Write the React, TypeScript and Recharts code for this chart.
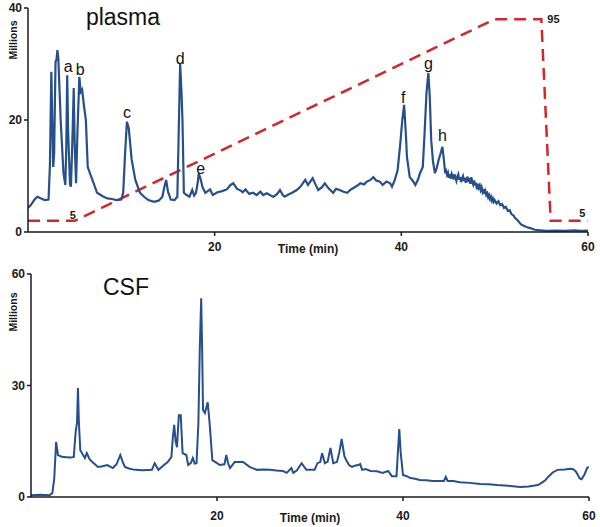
import React from 'react';
import { LineChart, Line, XAxis, YAxis, ReferenceDot, Customized } from 'recharts';

// ---------- data ----------
const plasmaTrace: [number, number][] = [
  [0, 4.3], [0.3, 4.8], [0.7, 5.8], [1.0, 6.3], [1.4, 6.0], [1.8, 5.7], [2.2, 5.8],
  [2.35, 12], [2.5, 28.6], [2.6, 20], [2.7, 11.6], [2.8, 14], [2.95, 30.4], [3.05, 30.8], [3.15, 32.5], [3.25, 31],
  [3.5, 20], [3.8, 10.5], [4.0, 8.4], [4.1, 15], [4.2, 28], [4.3, 18], [4.5, 8.5], [4.6, 8.1], [4.75, 16],
  [4.9, 25.7], [5.0, 16], [5.15, 8.7], [5.3, 18], [5.5, 27.7], [5.65, 25], [5.8, 25.4], [6.0, 22.5], [6.2, 20],
  [6.4, 11.6], [6.9, 9.3], [7.4, 7], [8.0, 6.4], [8.5, 6], [9.0, 5.9], [9.5, 5.7], [10.0, 5.8], [10.2, 7],
  [10.4, 14], [10.6, 19.7], [10.8, 18.5], [11.1, 13], [11.5, 9.3], [12.0, 7], [12.5, 6.2], [12.9, 5.7],
  [13.5, 5.4], [14.0, 5.6], [14.4, 6.3], [14.6, 8], [14.8, 9.3], [15.0, 7.2], [15.3, 5.8], [15.7, 5.7],
  [16.0, 6.3], [16.15, 18], [16.3, 30.1], [16.45, 24.8], [16.55, 20], [16.7, 7], [17.0, 6.6], [17.3, 6.3],
  [17.6, 7.5], [17.8, 6.5], [18.0, 7], [18.2, 9], [18.3, 10.5], [18.5, 9.4], [18.7, 8], [19.0, 7], [19.5, 7.6],
  [19.8, 6.6], [20.3, 7.1], [20.8, 7.3], [21.3, 7.6], [21.7, 8.4], [22.0, 8.7], [22.4, 7.7], [22.8, 7.4],
  [23.0, 7.1], [23.3, 7.6], [23.7, 6.8], [24.1, 7.0], [24.5, 6.6], [24.9, 7.2], [25.2, 6.6], [25.6, 6.9],
  [26.0, 6.5], [26.3, 6.3], [26.7, 6.8], [27.0, 7.5], [27.3, 6.6], [27.5, 6.3], [27.9, 6.7], [28.3, 7.0],
  [28.8, 7.5], [29.2, 8.1], [29.7, 9.3], [30.0, 8.4], [30.5, 9.6], [30.8, 8.5], [31.1, 7.5], [31.5, 8.0],
  [31.8, 8.7], [32.2, 7.8], [32.7, 7.0], [33.0, 7.7], [33.4, 7.5], [33.8, 7.2], [34.2, 7.0], [34.6, 7.6],
  [35.0, 8.0], [35.3, 8.3], [35.6, 8.7], [36.0, 8.5], [36.3, 9.0], [36.7, 9.3], [37.0, 9.8], [37.3, 9.2],
  [37.7, 9.0], [38.0, 8.4], [38.4, 9.0], [38.8, 8.7], [39.0, 8.1], [39.3, 9.3], [39.6, 11], [39.9, 16],
  [40.1, 20], [40.3, 22.7], [40.5, 17], [40.6, 13.4], [40.9, 9.8], [41.2, 9.2], [41.5, 8.4], [41.8, 9.4],
  [42.0, 10.5], [42.3, 11.6], [42.5, 18], [42.7, 25], [42.9, 28.4], [43.05, 24], [43.2, 16.4], [43.4, 12.5],
  [43.6, 10.5], [43.8, 11.5], [44.0, 12.9], [44.2, 14], [44.4, 15.2], [44.55, 13], [44.7, 10.5],
  [44.8, 10.9], [44.9, 10.2], [45.0, 10.6], [45.1, 9.7], [45.2, 10.3], [45.3, 9.5], [45.4, 10.4], [45.5, 10.0],
  [45.6, 9.4], [45.7, 10.3], [45.8, 9.6], [45.9, 9.1], [46.0, 9.9], [46.1, 10.3], [46.2, 9.3], [46.3, 9.8],
  [46.4, 8.9], [46.5, 9.6], [46.6, 10.0], [46.7, 9.1], [46.8, 9.7], [46.9, 8.8], [47.0, 9.4], [47.1, 9.9],
  [47.2, 8.9], [47.3, 9.6], [47.4, 8.6], [47.5, 9.8], [47.6, 9.0], [47.7, 8.5], [47.8, 9.2], [47.9, 8.3],
  [48.0, 8.8], [48.1, 7.6], [48.2, 8.6], [48.3, 7.9], [48.4, 8.3], [48.5, 7.5], [48.6, 8.0], [48.7, 7.2],
  [48.8, 7.7], [48.9, 6.8], [49.0, 7.3], [49.1, 6.6], [49.2, 6.9], [49.3, 6.2], [49.4, 6.6], [49.5, 5.9],
  [49.6, 6.3], [49.7, 5.6], [49.8, 6.0], [49.9, 5.4], [50.0, 5.7], [50.2, 5.1], [50.4, 5.5], [50.6, 4.8],
  [50.8, 5.0], [51.0, 4.3], [51.2, 4.5], [51.4, 3.8], [51.6, 3.9], [51.8, 3.2], [52.0, 3.0], [52.2, 2.5],
  [52.4, 2.2], [52.6, 1.8], [52.8, 1.4], [53.0, 1.2], [53.4, 0.9], [53.8, 0.7], [54.3, 0.4], [54.9, 0.3],
  [55.5, 0.2], [56.5, 0.25], [57.5, 0.2], [58.5, 0.3], [59.3, 0.2], [60, 0.25],
];

const csfTrace: [number, number][] = [
  [0, 0.5], [1, 0.6], [2, 0.5], [2.3, 1.1], [2.5, 5], [2.7, 14.8], [2.9, 11.3], [3.3, 10.8], [3.8, 10.7],
  [4.3, 10.6], [4.6, 10.8], [4.8, 17.5], [4.95, 20], [5.05, 29.3], [5.15, 20], [5.3, 12.6], [5.6, 11.3],
  [5.8, 10.5], [6.0, 11.8], [6.3, 10.2], [6.6, 9.4], [7.2, 8.1], [7.7, 8.3], [8.2, 8.6], [8.8, 7.8], [9.2, 8.8],
  [9.6, 11.3], [9.85, 9.5], [10.1, 8.1], [10.6, 7.6], [11.2, 7.3], [12.0, 7.2], [13.0, 7.3], [13.3, 9.1],
  [13.7, 7.3], [14.3, 8.6], [14.7, 9.4], [15.1, 10.8], [15.25, 16], [15.4, 19.4], [15.55, 15], [15.7, 13.4],
  [15.8, 18], [15.9, 22], [16.1, 22], [16.2, 17], [16.3, 11.8], [16.7, 11.3], [16.9, 8.6], [17.2, 9.2],
  [17.4, 10.5], [17.6, 9.0], [17.8, 9.1], [18.0, 20], [18.15, 40], [18.3, 53.5], [18.4, 40], [18.5, 23.4],
  [18.7, 22.6], [19.0, 25.5], [19.2, 20], [19.5, 9.9], [20.0, 9.1], [20.3, 8.6], [20.8, 8.8], [21.0, 11.3],
  [21.2, 9], [21.4, 7.8], [21.9, 9.4], [22.8, 9.4], [23.5, 8.1], [24.3, 7.3], [25.0, 7.4], [25.7, 7.3],
  [26.4, 7.1], [27.1, 7.0], [27.5, 6.5], [28.0, 7.8], [28.2, 6.5], [28.6, 7.2], [29.1, 9.1], [29.6, 7.3],
  [30.5, 7.3], [30.8, 9.1], [31.1, 9.4], [31.3, 11.8], [31.6, 9.1], [31.9, 9.5], [32.2, 13.2], [32.5, 9.1],
  [32.9, 9.4], [33.15, 12], [33.4, 15.6], [33.7, 11], [33.9, 9.9], [34.2, 8.6], [34.5, 8.1], [34.8, 8.4],
  [35.2, 8.6], [35.4, 8.9], [35.6, 7.3], [36.0, 7.5], [36.5, 7.0], [37.2, 6.9], [37.8, 6.5], [38.4, 7.0],
  [38.8, 5.6], [39.3, 5.6], [39.45, 12], [39.6, 18.3], [39.75, 12], [40.0, 5.9], [40.4, 5.6], [40.8, 5.1],
  [41.3, 4.9], [41.8, 4.6], [42.5, 4.5], [43.2, 4.3], [44.0, 4.3], [44.4, 4.3], [44.6, 5.4], [44.8, 4.3],
  [45.4, 4.3], [46.1, 4.0], [47.2, 3.8], [48.3, 3.5], [49.2, 3.4], [50.1, 3.2], [51.3, 3.0], [52.6, 2.7],
  [53.5, 2.8], [54.0, 3.0], [54.5, 3.2], [54.9, 3.8], [55.3, 4.5], [55.6, 5.4], [56.1, 6.6], [56.6, 7.3],
  [57.4, 7.4], [58.0, 7.6], [58.3, 7.5], [58.6, 6.8], [58.8, 5.9], [59.0, 5.0], [59.2, 4.8], [59.5, 6.0],
  [59.8, 7.8], [60.0, 8.1],
];

const gradientTime = [0, 5, 50, 55, 56, 60];
const gradientPct = [5, 5, 95, 95, 5, 5];

const plasmaPeaks = [
  { label: 'a', t: 4.3, v: 29.5 },
  { label: 'b', t: 5.6, v: 29.1 },
  { label: 'c', t: 10.6, v: 21.3 },
  { label: 'd', t: 16.3, v: 31.1 },
  { label: 'e', t: 18.5, v: 11.4 },
  { label: 'f', t: 40.2, v: 24.1 },
  { label: 'g', t: 42.9, v: 30.2 },
  { label: 'h', t: 44.4, v: 17.3 },
];

const gradientLabels = [
  { label: '5', t: 4.8, p: 7.6 },
  { label: '95', t: 56.3, p: 95 },
  { label: '5', t: 59.4, p: 8.5 },
];

const xTicks = [20, 40, 60];
const plasmaYTicks = [0, 20, 40];
const csfYTicks = [0, 30, 60];

// ---------- derived tables ----------
const plasmaData = plasmaTrace.map(([t, v]) => ({ t, v }));
const csfData = csfTrace.map(([t, v]) => ({ t, v }));
const gradientData = gradientTime.map((t, i) => ({ t, p: gradientPct[i] }));

// ---------- styles ----------
const FONT = 'Arial, "Liberation Sans", sans-serif';
const TRACE = '#264f8c';
const RED = '#d4262b';
const AXIS = '#1a1a1a';
const tickStyle = { fontSize: 12, fontWeight: 'bold' as const, fill: '#1a1a1a', fontFamily: FONT };

const TitleText = ({ x, y, text }: { x: number; y: number; text: string }) => (
  <text x={x} y={y} textAnchor="middle" fontSize={23} fontFamily={FONT} fill="#111">
    {text}
  </text>
);

const MillionsText = ({ x, y }: { x: number; y: number }) => (
  <text
    x={x}
    y={y}
    transform={`rotate(-90 ${x} ${y})`}
    textAnchor="middle"
    dominantBaseline="central"
    fontSize={10.5}
    fontWeight="bold"
    fontFamily={FONT}
    fill="#1a1a1a"
  >
    Millions
  </text>
);

export default function App() {
  return (
    <div style={{ position: 'absolute', left: 0, top: 0, width: 600, height: 527, background: '#fff', fontFamily: FONT }}>
      <div style={{ position: 'absolute', left: 0, top: 0 }}>
        <LineChart width={600} height={262} margin={{ top: 8, right: 12, left: 8, bottom: 0 }}>
          <XAxis
            type="number"
            dataKey="t"
            domain={[0, 60]}
            ticks={xTicks}
            allowDataOverflow
            height={30}
            tickSize={4}
            tickMargin={6}
            tick={tickStyle}
            axisLine={{ stroke: AXIS, strokeWidth: 1.5 }}
            tickLine={{ stroke: AXIS, strokeWidth: 1.5 }}
            label={{ value: 'Time (min)', position: 'insideBottom', offset: 9, style: { fontSize: 12, fontWeight: 'bold', fill: '#1a1a1a', fontFamily: FONT } }}
          />
          <YAxis
            yAxisId="m"
            type="number"
            domain={[0, 40]}
            ticks={plasmaYTicks}
            width={20}
            tickSize={4}
            tickMargin={2}
            tick={tickStyle}
            axisLine={{ stroke: AXIS, strokeWidth: 1.5 }}
            tickLine={{ stroke: AXIS, strokeWidth: 1.5 }}
          />
          <YAxis yAxisId="pct" type="number" domain={[0, 100]} hide />
          <Line
            yAxisId="pct"
            data={gradientData}
            dataKey="p"
            type="linear"
            stroke={RED}
            strokeWidth={2.5}
            strokeDasharray="12 7"
            dot={false}
            isAnimationActive={false}
          />
          <Line
            yAxisId="m"
            data={plasmaData}
            dataKey="v"
            type="linear"
            stroke={TRACE}
            strokeWidth={2.2}
            dot={false}
            isAnimationActive={false}
          />
          {plasmaPeaks.map((p, i) => (
            <ReferenceDot
              key={'pk' + i}
              yAxisId="m"
              x={p.t}
              y={p.v}
              r={0}
              fill="none"
              stroke="none"
              label={{ value: p.label, position: 'center', style: { fontSize: 16, fill: '#111', fontFamily: FONT } }}
            />
          ))}
          {gradientLabels.map((g, i) => (
            <ReferenceDot
              key={'gl' + i}
              yAxisId="pct"
              x={g.t}
              y={g.p}
              r={0}
              fill="none"
              stroke="none"
              label={{ value: g.label, position: 'center', style: { fontSize: 11, fontWeight: 'bold', fill: '#1a1a1a', fontFamily: FONT } }}
            />
          ))}
          <Customized component={() => <TitleText x={123} y={25} text="plasma" />} />
          <Customized component={() => <MillionsText x={13} y={40} />} />
        </LineChart>
      </div>
      <div style={{ position: 'absolute', left: 0, top: 262 }}>
        <LineChart width={600} height={265} margin={{ top: 12, right: 11, left: 11, bottom: 0 }}>
          <XAxis
            type="number"
            dataKey="t"
            domain={[0, 60]}
            ticks={xTicks}
            allowDataOverflow
            height={30}
            tickSize={4}
            tickMargin={10}
            tick={tickStyle}
            axisLine={{ stroke: AXIS, strokeWidth: 1.5 }}
            tickLine={{ stroke: AXIS, strokeWidth: 1.5 }}
            label={{ value: 'Time (min)', position: 'insideBottom', offset: 5, style: { fontSize: 12, fontWeight: 'bold', fill: '#1a1a1a', fontFamily: FONT } }}
          />
          <YAxis
            type="number"
            domain={[0, 60]}
            ticks={csfYTicks}
            width={20}
            tickSize={4}
            tickMargin={2}
            tick={tickStyle}
            axisLine={{ stroke: AXIS, strokeWidth: 1.5 }}
            tickLine={{ stroke: AXIS, strokeWidth: 1.5 }}
          />
          <Line
            data={csfData}
            dataKey="v"
            type="linear"
            stroke={TRACE}
            strokeWidth={2}
            dot={false}
            isAnimationActive={false}
          />
          <Customized component={() => <TitleText x={126} y={33} text="CSF" />} />
          <Customized component={() => <MillionsText x={13} y={50} />} />
        </LineChart>
      </div>
    </div>
  );
}
